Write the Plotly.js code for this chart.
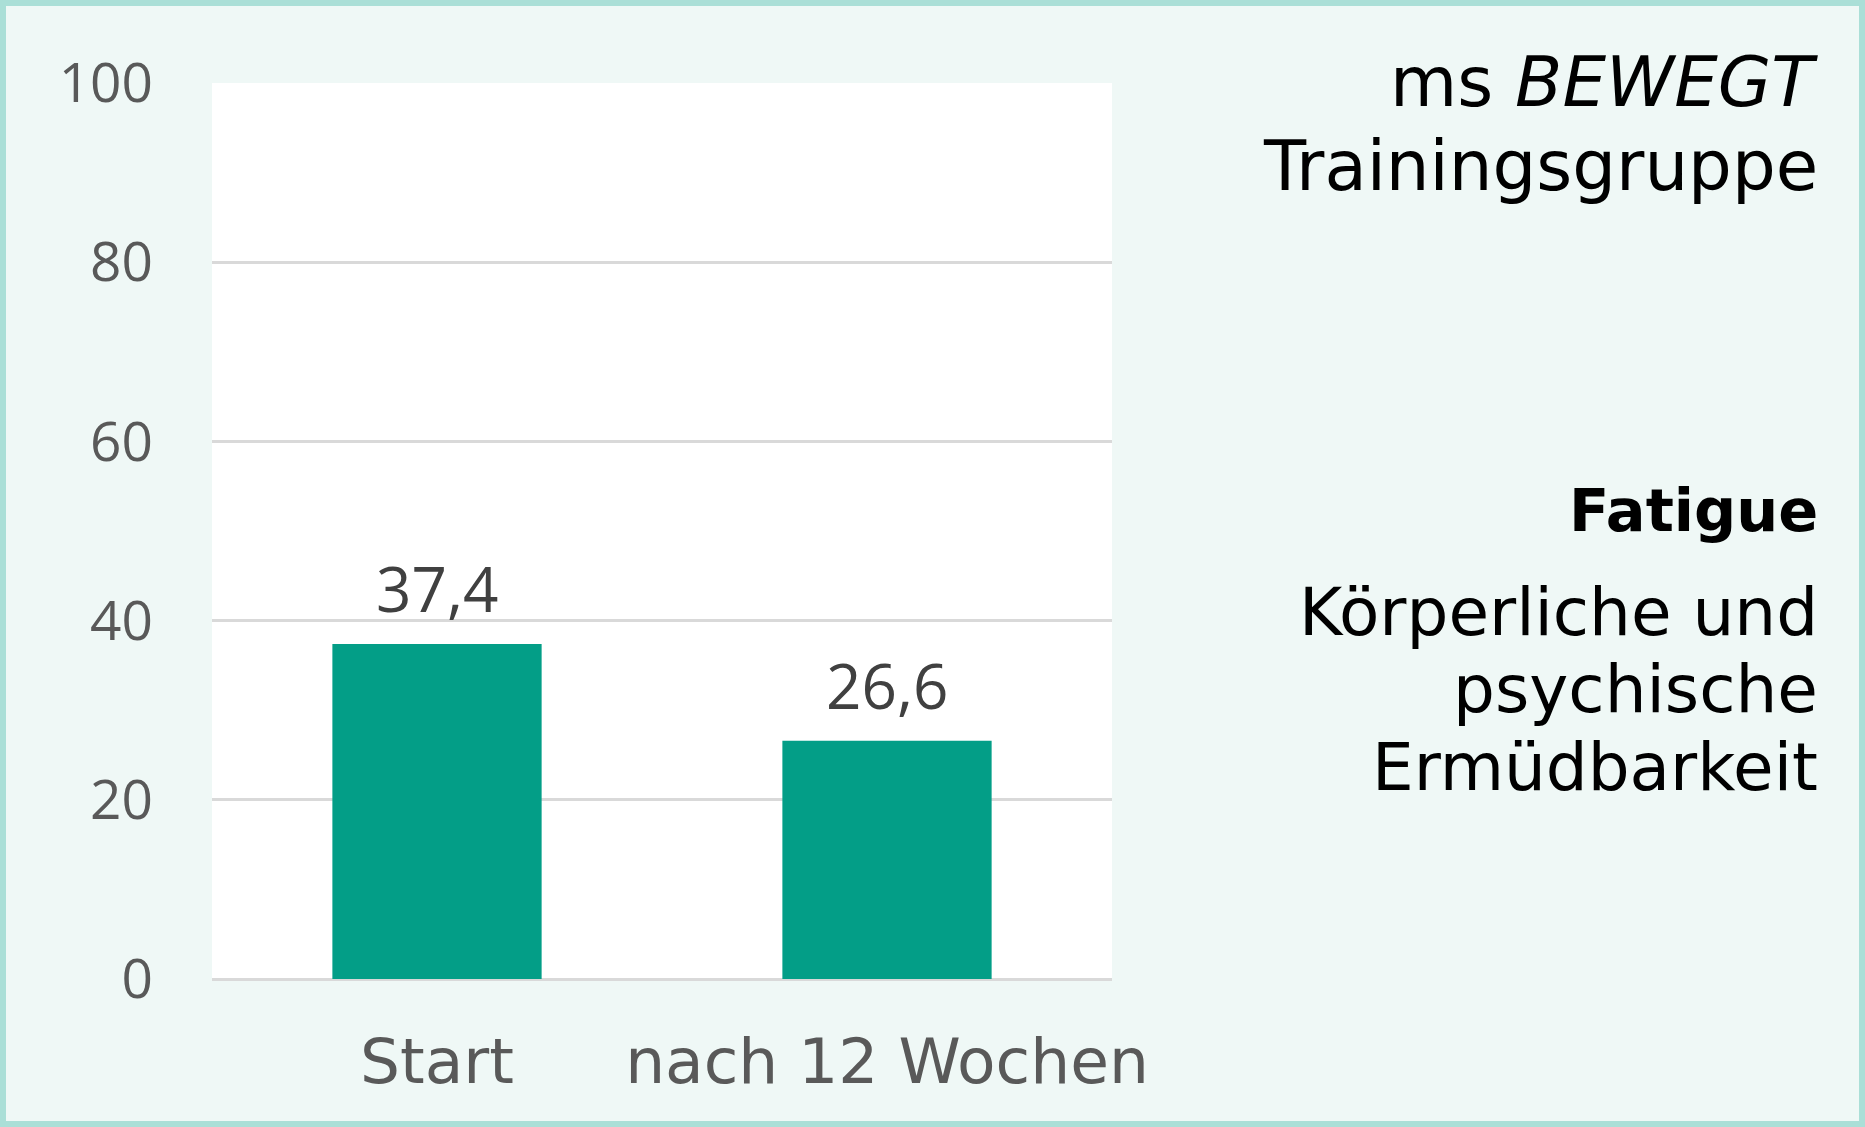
<!DOCTYPE html>
<html>
<head>
<meta charset="utf-8">
<script src="https://cdn.plot.ly/plotly-3.0.1.min.js"></script>
<style>
  html, body { margin: 0; padding: 0; background: #eff8f6; }
  #frame {
    width: 1865px; height: 1127px; box-sizing: border-box;
    border: 6px solid #aadfd7; background: #eff8f6; overflow: hidden;
  }
</style>
</head>
<body>
<div id="frame"><div id="plot"></div></div>
<script>
// chart data
var categories = ['Start', 'nach 12 Wochen'];
var fatigueValues = [37.4, 26.6];
var yTicks = [0, 20, 40, 60, 80, 100];

// text on the right side
var headLines = ['ms <i>BEWEGT</i>', 'Trainingsgruppe'];
var topicTitle = '<b>Fatigue</b>';
var topicLines = ['Körperliche und', 'psychische', 'Ermüdbarkeit'];

var barColor = '#039e87';
var numFont = 'Open Sans, Noto Sans, sans-serif';
var wideFont = 'DejaVu Sans, Open Sans, sans-serif';

// plot area is 900 x 896 px
var plotLeft = 206, plotTop = 77, plotW = 900, plotH = 896;
function px2x(px) { return (px - plotLeft) / plotW; }
function px2y(py) { return (plotTop + plotH - py) / plotH; }

var trace = {
  x: categories,
  y: fatigueValues,
  type: 'bar',
  marker: { color: barColor },
  hoverinfo: 'skip'
};

var annotations = [];

// value labels above bars
fatigueValues.forEach(function(v, i) {
  annotations.push({
    x: categories[i], y: v, xref: 'x', yref: 'y',
    text: v.toFixed(1).replace('.', ','),
    showarrow: false, yanchor: 'bottom', yshift: 12,
    font: { family: numFont, size: 62, color: '#404040' }
  });
});

// right side texts (pixel rows inside the frame)
var rightEdge = 1814;
var headRows = [76, 160];
headLines.forEach(function(t, i) {
  annotations.push({
    xref: 'paper', yref: 'paper', x: px2x(rightEdge), y: px2y(headRows[i]),
    xanchor: 'right', yanchor: 'middle', text: t, showarrow: false,
    font: { family: wideFont, size: 69, color: '#000000' }
  });
});
annotations.push({
  xref: 'paper', yref: 'paper', x: px2x(rightEdge), y: px2y(504),
  xanchor: 'right', yanchor: 'middle', text: topicTitle, showarrow: false,
  font: { family: wideFont, size: 59, color: '#000000' }
});
var topicRows = [606, 683, 761];
topicLines.forEach(function(t, i) {
  annotations.push({
    xref: 'paper', yref: 'paper', x: px2x(rightEdge), y: px2y(topicRows[i]),
    xanchor: 'right', yanchor: 'middle', text: t, showarrow: false,
    font: { family: wideFont, size: 66, color: '#000000' }
  });
});

var layout = {
  width: 1853,
  height: 1115,
  margin: { l: plotLeft, r: 1853 - plotLeft - plotW, t: plotTop, b: 1115 - plotTop - plotH, pad: 0 },
  paper_bgcolor: '#eff8f6',
  plot_bgcolor: '#ffffff',
  showlegend: false,
  bargap: 0.535,
  xaxis: {
    type: 'category',
    showgrid: false,
    zeroline: false,
    showline: false,
    ticks: '',
    ticklabelstandoff: 40,
    tickfont: { family: wideFont, size: 63, color: '#595959' }
  },
  yaxis: {
    range: [0, 100],
    tickvals: yTicks,
    ticktext: yTicks.map(String),
    showgrid: true,
    gridcolor: '#d9d9d9',
    gridwidth: 3,
    zeroline: true,
    zerolinecolor: '#d9d9d9',
    zerolinewidth: 3,
    showline: false,
    ticks: '',
    ticklabelstandoff: 58,
    tickfont: { family: numFont, size: 55, color: '#595959' }
  },
  annotations: annotations
};

Plotly.newPlot('plot', [trace], layout, { displayModeBar: false, staticPlot: true });
</script>
</body>
</html>
